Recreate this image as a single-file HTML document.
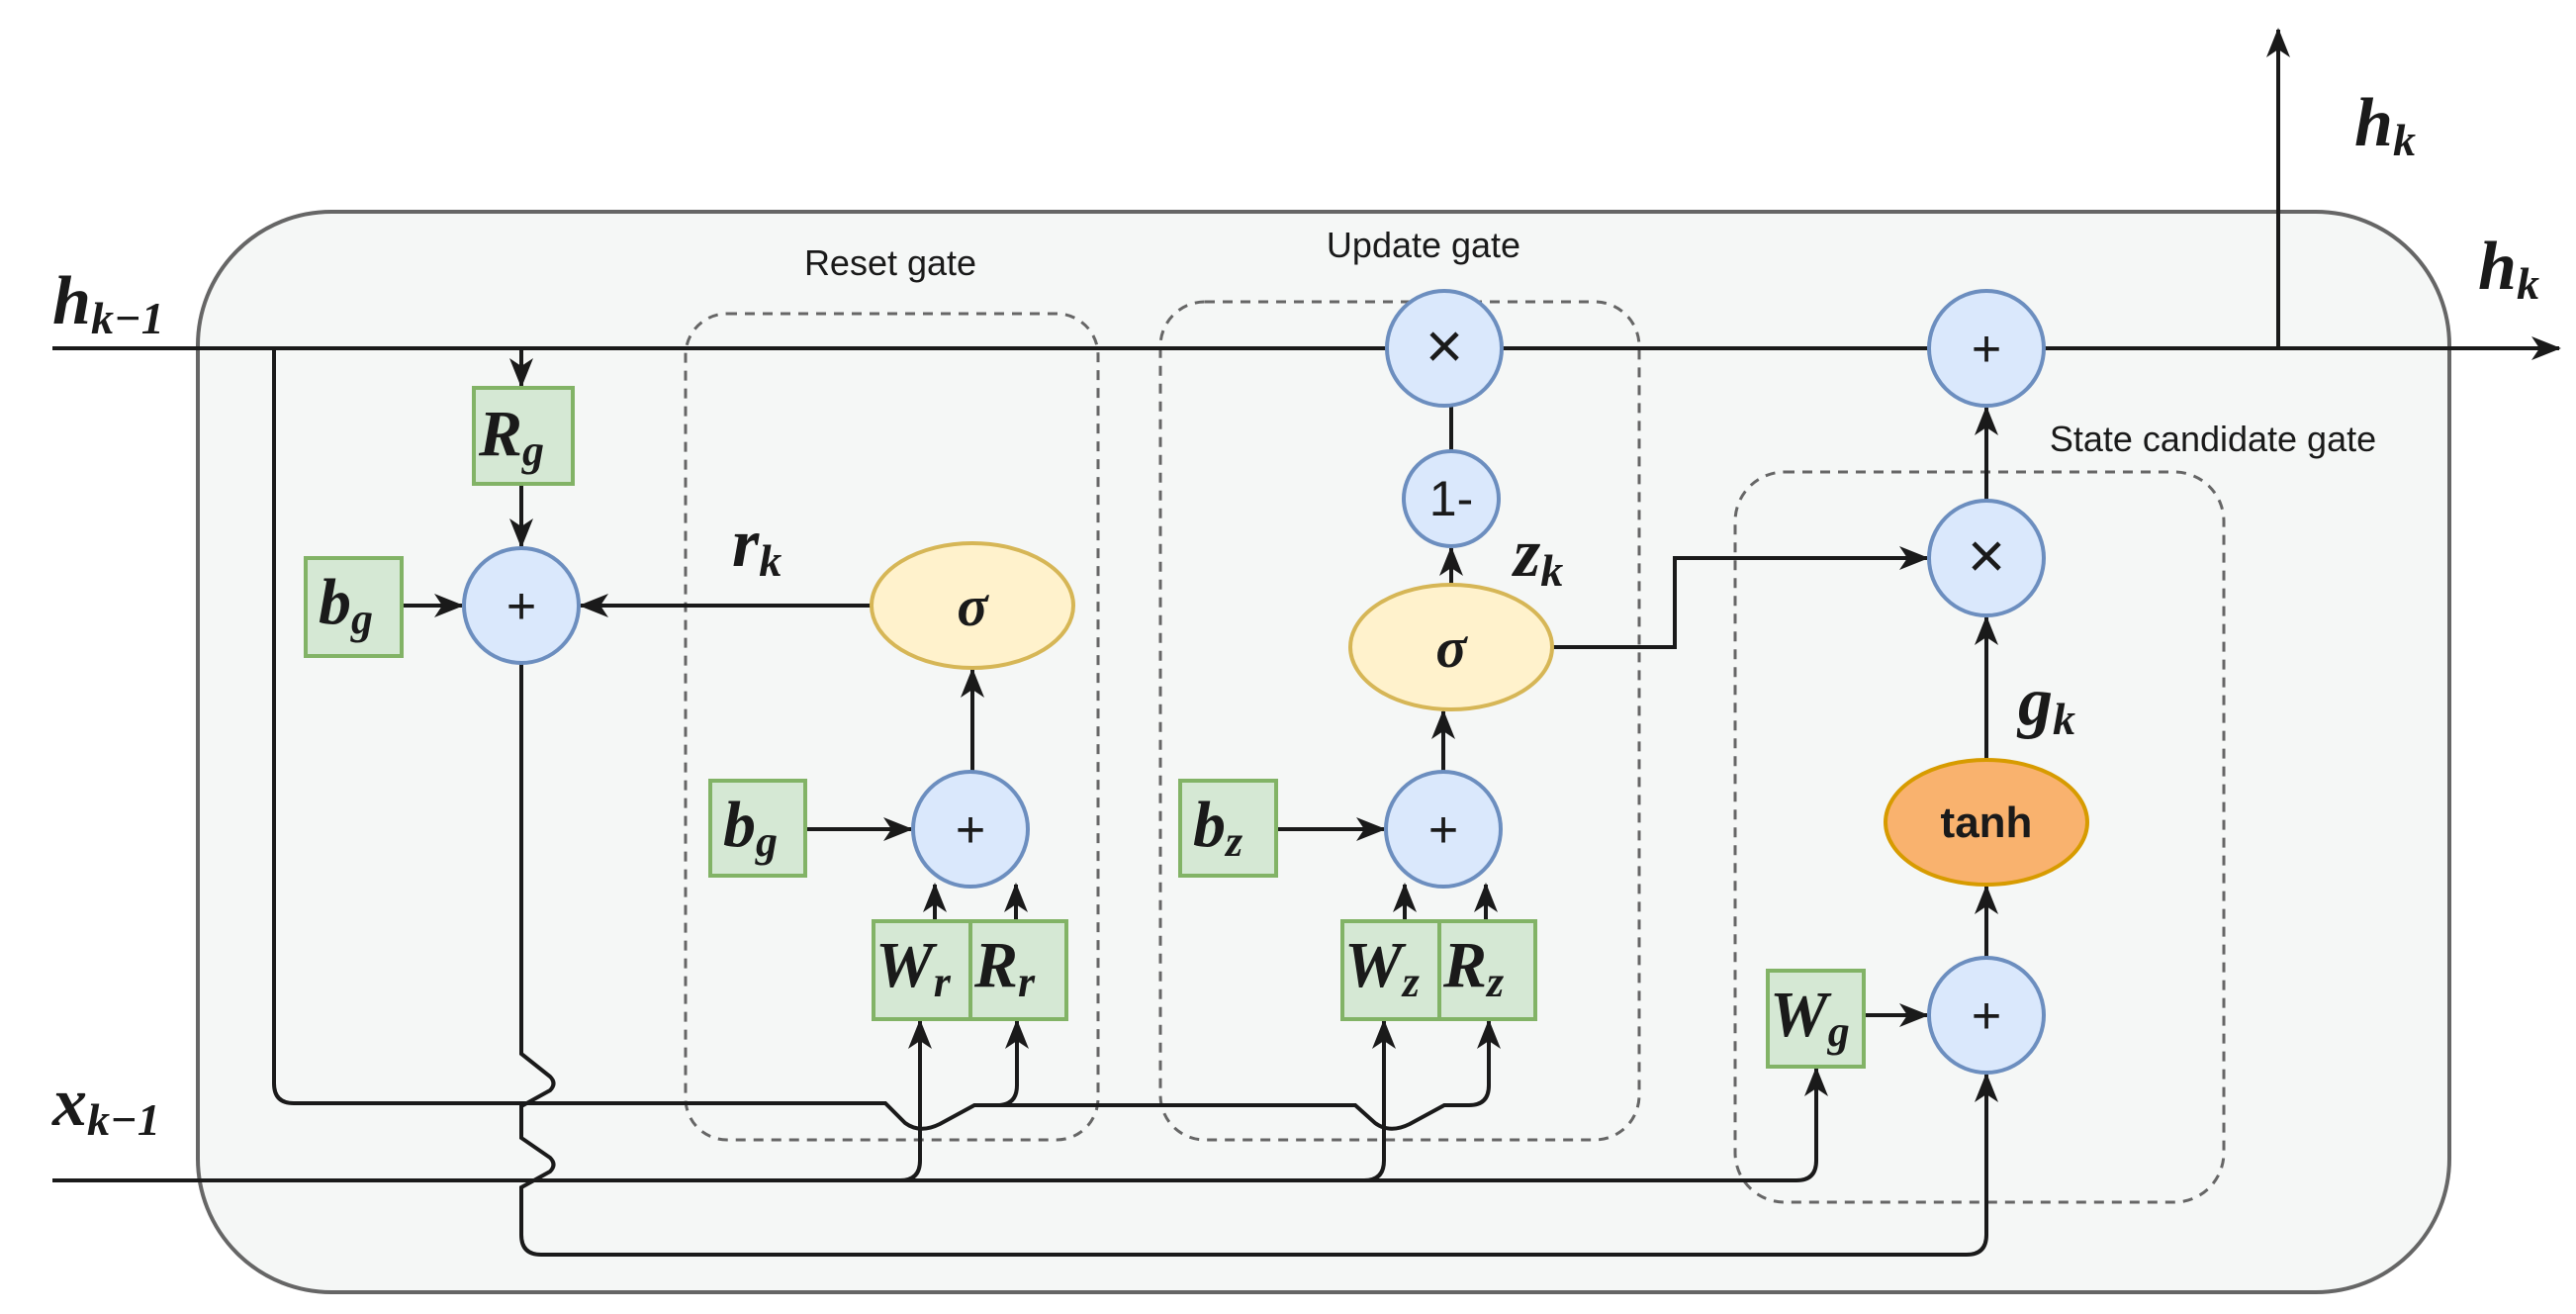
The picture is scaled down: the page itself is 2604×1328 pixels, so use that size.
<!DOCTYPE html>
<html><head><meta charset="utf-8"><style>
html,body{margin:0;padding:0;background:#fff}
svg{display:block}
.m{font-family:"Liberation Serif",serif;font-style:italic;font-weight:bold;fill:#1a1a1a}
.s{font-family:"Liberation Sans",sans-serif;fill:#1a1a1a}
</style></head><body>
<svg width="2604" height="1328" viewBox="0 0 2604 1328" xmlns="http://www.w3.org/2000/svg">
<defs>
<marker id="ar" viewBox="0 0 30 24" refX="28" refY="12" markerWidth="30" markerHeight="24" orient="auto" markerUnits="userSpaceOnUse">
<path d="M0,0 L30,12 L0,24 L8,12 Z" fill="#1a1a1a"/>
</marker>
</defs>
<rect x="200" y="214" width="2276" height="1092" rx="135" fill="#f5f7f6" stroke="#666" stroke-width="4"/>
<g fill="none" stroke="#666" stroke-width="3" stroke-dasharray="10,8">
<rect x="693" y="317" width="417" height="835" rx="42"/>
<rect x="1173" y="305" width="484" height="847" rx="45"/>
<rect x="1754" y="477" width="494" height="738" rx="50"/>
</g>
<text class="s" x="900" y="278" font-size="36" text-anchor="middle">Reset gate</text>
<text class="s" x="1439" y="260" font-size="36" text-anchor="middle">Update gate</text>
<text class="s" x="2237" y="456" font-size="36" text-anchor="middle">State candidate gate</text>

<g fill="none" stroke="#1a1a1a" stroke-width="4">
<path d="M53 352 H2587" marker-end="url(#ar)"/>
<path d="M2303 352 V30" marker-end="url(#ar)"/>
<path d="M527 352 V390" marker-end="url(#ar)"/>
<path d="M527 489 V552" marker-end="url(#ar)"/>
<path d="M406 612 H467" marker-end="url(#ar)"/>
<path d="M881 612 H587" marker-end="url(#ar)"/>
<path d="M277 352 V1095 Q277 1115 297 1115 H895 L915 1135 Q930 1146 950 1136 L985 1117 H1008 Q1028 1117 1028 1097 V1032" marker-end="url(#ar)"/>
<path d="M985 1117 H1370 L1390 1135 Q1405 1146 1425 1136 L1460 1117 H1485 Q1505 1117 1505 1097 V1032" marker-end="url(#ar)"/>
<path d="M53 1193 H1816 Q1836 1193 1836 1173 V1080" marker-end="url(#ar)"/>
<path d="M910 1193 Q930 1193 930 1173 V1032" marker-end="url(#ar)"/>
<path d="M1379 1193 Q1399 1193 1399 1173 V1032" marker-end="url(#ar)"/>
<path d="M814 838 H921" marker-end="url(#ar)"/>
<path d="M945 931 V894" marker-end="url(#ar)"/>
<path d="M1027 931 V894" marker-end="url(#ar)"/>
<path d="M983 780 V677" marker-end="url(#ar)"/>
<path d="M1290 838 H1399" marker-end="url(#ar)"/>
<path d="M1420 931 V894" marker-end="url(#ar)"/>
<path d="M1502 931 V894" marker-end="url(#ar)"/>
<path d="M1459 780 V719" marker-end="url(#ar)"/>
<path d="M1467 591 V554" marker-end="url(#ar)"/>
<path d="M1467 456 V410"/>
<path d="M1569 654 H1693 V564 H1948" marker-end="url(#ar)"/>
<path d="M2008 506 V412" marker-end="url(#ar)"/>
<path d="M2008 768 V624" marker-end="url(#ar)"/>
<path d="M2008 968 V896" marker-end="url(#ar)"/>
<path d="M1884 1026 H1948" marker-end="url(#ar)"/>
<path d="M527 670 V1065 L556 1088 Q563 1095 556 1102 L527 1118 V1150 L556 1170 Q563 1177 556 1184 L527 1200 V1248 Q527 1268 547 1268 H1988 Q2008 1268 2008 1248 V1086" marker-end="url(#ar)"/>
</g>

<g fill="#d5e8d4" stroke="#82b366" stroke-width="4">
<rect x="479" y="392" width="100" height="97"/>
<rect x="309" y="564" width="97" height="99"/>
<rect x="718" y="789" width="96" height="96"/>
<rect x="883" y="931" width="98" height="99"/>
<rect x="981" y="931" width="97" height="99"/>
<rect x="1193" y="789" width="97" height="96"/>
<rect x="1357" y="931" width="98" height="99"/>
<rect x="1455" y="931" width="97" height="99"/>
<rect x="1787" y="981" width="97" height="97"/>
</g>
<g fill="#dae8fc" stroke="#6c8ebf" stroke-width="4">
<circle cx="527" cy="612" r="58"/>
<circle cx="981" cy="838" r="58"/>
<circle cx="1459" cy="838" r="58"/>
<circle cx="1467" cy="504" r="48"/>
<circle cx="1460" cy="352" r="58"/>
<circle cx="2008" cy="352" r="58"/>
<circle cx="2008" cy="564" r="58"/>
<circle cx="2008" cy="1026" r="58"/>
</g>
<g fill="#fff2cc" stroke="#d6b656" stroke-width="4">
<ellipse cx="983" cy="612" rx="102" ry="63"/>
<ellipse cx="1467" cy="654" rx="102" ry="63"/>
</g>
<ellipse cx="2008" cy="831" rx="102" ry="63" fill="#f9b26e" stroke="#d79b00" stroke-width="4"/>

<g class="s" font-size="52" text-anchor="middle">
<text x="527" y="630">+</text>
<text x="981" y="856">+</text>
<text x="1459" y="856">+</text>
<text x="2008" y="370">+</text>
<text x="2008" y="1044">+</text>
<text x="1467" y="521" font-size="50">1-</text>
<text x="1460" y="372" font-size="66">×</text>
<text x="2008" y="584" font-size="66">×</text>
<text x="2008" y="846" font-size="44" font-weight="bold">tanh</text>
</g>
<g class="m" text-anchor="middle">
<text x="983" y="632" font-size="58">σ</text>
<text x="1467" y="674" font-size="58">σ</text>
</g>

<g class="m" font-size="70">
<text x="53" y="327">h<tspan font-size="46" dy="10">k−1</tspan></text>
<text x="53" y="1137">x<tspan font-size="46" dy="10">k−1</tspan></text>
<text x="2380" y="147">h<tspan font-size="46" dy="10">k</tspan></text>
<text x="2505" y="292">h<tspan font-size="46" dy="10">k</tspan></text>
<text x="740" y="572">r<tspan font-size="46" dy="10">k</tspan></text>
<text x="1530" y="582">z<tspan font-size="46" dy="10">k</tspan></text>
<text x="2040" y="732">g<tspan font-size="46" dy="10">k</tspan></text>
</g>
<g class="m" font-size="66">
<text x="484" y="460">R<tspan font-size="44" dy="10">g</tspan></text>
<text x="322" y="630">b<tspan font-size="44" dy="10">g</tspan></text>
<text x="731" y="855">b<tspan font-size="44" dy="10">g</tspan></text>
<text x="1206" y="855">b<tspan font-size="44" dy="10">z</tspan></text>
<text x="885" y="997">W<tspan font-size="44" dy="10">r</tspan></text>
<text x="985" y="997">R<tspan font-size="44" dy="10">r</tspan></text>
<text x="1359" y="997">W<tspan font-size="44" dy="10">z</tspan></text>
<text x="1459" y="997">R<tspan font-size="44" dy="10">z</tspan></text>
<text x="1789" y="1047">W<tspan font-size="44" dy="10">g</tspan></text>
</g>
</svg>
</body></html>
